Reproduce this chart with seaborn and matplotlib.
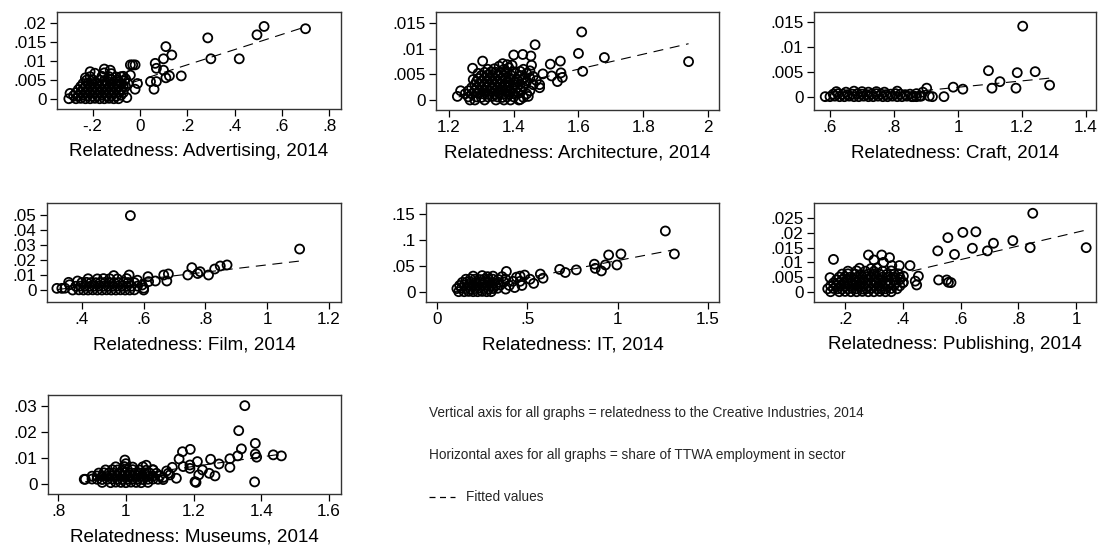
import matplotlib
matplotlib.use("Agg")
import matplotlib.pyplot as plt
from matplotlib.lines import Line2D
import pandas as pd
import seaborn as sns

# Points, one list of (relatedness, share) per sector
adv_pts = [
    (0.70, 0.0184), (0.525, 0.019), (0.495, 0.0168), (0.287, 0.016), (0.30, 0.0105),
    (0.42, 0.0105), (0.175, 0.006), (0.11, 0.0137), (0.135, 0.0115), (0.10, 0.0105),
    (0.065, 0.0093), (0.07, 0.008), (0.10, 0.0075), (0.11, 0.0055), (0.125, 0.006),
    (0.045, 0.0045), (0.06, 0.0025), (0.07, 0.0045), (-0.04, 0.0089), (-0.03, 0.0089),
    (-0.02, 0.0089), (-0.055, 0.0003), (-0.02, 0.0025), (-0.01, 0.004), (-0.05, 0.004),
    (-0.06, 0.0052), (-0.04, 0.0062), (-0.21, 0.0071), (-0.15, 0.0078), (-0.125, 0.0075),
    (-0.23, 0.0055), (-0.295, 0.0014), (-0.30, 0.0), (-0.09, 0.0045), (-0.08, 0.0058),
    (-0.27, 0.0), (-0.25, 0.0001), (-0.23, 0.0), (-0.21, 0.0), (-0.19, 0.0001), (-0.17, 0.0),
    (-0.15, 0.0), (-0.13, 0.0001), (-0.11, 0.0), (-0.09, 0.0), (-0.28, 0.0008), (-0.26, 0.0008),
    (-0.24, 0.0009), (-0.22, 0.0008), (-0.20, 0.0007), (-0.18, 0.0008), (-0.16, 0.0009),
    (-0.14, 0.0008), (-0.12, 0.0008), (-0.10, 0.0007), (-0.08, 0.0009), (-0.27, 0.0016),
    (-0.25, 0.0017), (-0.23, 0.0016), (-0.21, 0.0015), (-0.19, 0.0016), (-0.17, 0.0017),
    (-0.15, 0.0016), (-0.13, 0.0016), (-0.11, 0.0015), (-0.09, 0.0017), (-0.07, 0.0016),
    (-0.26, 0.0024), (-0.24, 0.0025), (-0.22, 0.0024), (-0.20, 0.0023), (-0.18, 0.0024),
    (-0.16, 0.0025), (-0.14, 0.0024), (-0.12, 0.0023), (-0.10, 0.0024), (-0.08, 0.0025),
    (-0.06, 0.0032), (-0.25, 0.0032), (-0.23, 0.0033), (-0.21, 0.0032), (-0.19, 0.0031),
    (-0.17, 0.0032), (-0.15, 0.0033), (-0.13, 0.0032), (-0.11, 0.0031), (-0.09, 0.0032),
    (-0.07, 0.0033), (-0.24, 0.004), (-0.22, 0.0041), (-0.20, 0.004), (-0.18, 0.0039),
    (-0.16, 0.004), (-0.14, 0.0041), (-0.12, 0.004), (-0.10, 0.0039), (-0.08, 0.0041),
    (-0.225, 0.0049), (-0.20, 0.005), (-0.17, 0.0049), (-0.15, 0.0048), (-0.12, 0.005),
    (-0.095, 0.0049), (-0.065, 0.0047), (-0.21, 0.0058), (-0.16, 0.0059), (-0.13, 0.0058),
    (-0.10, 0.0057), (-0.07, 0.0059), (-0.19, 0.0067), (-0.15, 0.0068), (-0.12, 0.0066),
]
adv_fit_x = [-0.30, 0.70]
adv_fit_y = [-0.0011, 0.0189]

arch_pts = [
    (1.94, 0.0075), (1.68, 0.0083), (1.61, 0.0133), (1.60, 0.0091), (1.613, 0.0056),
    (1.544, 0.0076), (1.513, 0.007), (1.546, 0.0053), (1.55, 0.0044), (1.517, 0.0047),
    (1.535, 0.0036), (1.49, 0.0051), (1.466, 0.0108), (1.453, 0.0086), (1.428, 0.0089),
    (1.40, 0.0088), (1.455, 0.0068), (1.438, 0.0033), (1.416, 0.0), (1.445, 0.0007),
    (1.48, 0.003), (1.304, 0.0076), (1.273, 0.0062), (1.226, 0.0007), (1.236, 0.0018),
    (1.265, 0.0), (1.366, 0.0071), (1.38, 0.0069), (1.395, 0.0068),
    (1.28, 0.0), (1.31, 0.0), (1.345, 0.0), (1.37, 0.0), (1.39, 0.0), (1.42, 0.0001),
    (1.26, 0.0006), (1.285, 0.0006), (1.30, 0.0005), (1.32, 0.0006), (1.335, 0.0007),
    (1.35, 0.0006), (1.365, 0.0005), (1.38, 0.0006), (1.40, 0.0006), (1.43, 0.0005),
    (1.25, 0.0012), (1.27, 0.0012), (1.29, 0.0013), (1.305, 0.0012), (1.32, 0.0011),
    (1.34, 0.0012), (1.355, 0.0013), (1.37, 0.0012), (1.385, 0.0011), (1.40, 0.0012),
    (1.415, 0.0013), (1.44, 0.0012), (1.26, 0.0018), (1.28, 0.0018), (1.295, 0.0019),
    (1.31, 0.0018), (1.325, 0.0017), (1.34, 0.0018), (1.36, 0.0019), (1.375, 0.0018),
    (1.39, 0.0017), (1.405, 0.0018), (1.42, 0.0019), (1.45, 0.0018), (1.27, 0.0024),
    (1.285, 0.0024), (1.30, 0.0025), (1.315, 0.0024), (1.33, 0.0023), (1.35, 0.0024),
    (1.365, 0.0025), (1.38, 0.0024), (1.395, 0.0023), (1.41, 0.0024), (1.43, 0.0025),
    (1.28, 0.003), (1.295, 0.0031), (1.31, 0.003), (1.325, 0.0029), (1.34, 0.003),
    (1.355, 0.0031), (1.37, 0.003), (1.385, 0.0029), (1.40, 0.003), (1.42, 0.0031),
    (1.46, 0.003), (1.285, 0.0036), (1.30, 0.0037), (1.32, 0.0036), (1.335, 0.0035),
    (1.35, 0.0036), (1.365, 0.0037), (1.38, 0.0036), (1.40, 0.0035), (1.415, 0.0036),
    (1.44, 0.0037), (1.29, 0.0042), (1.31, 0.0043), (1.325, 0.0042), (1.34, 0.0041),
    (1.36, 0.0042), (1.375, 0.0043), (1.39, 0.0042), (1.41, 0.0041), (1.43, 0.0042),
    (1.45, 0.0043), (1.30, 0.0048), (1.32, 0.0049), (1.335, 0.0048), (1.35, 0.0047),
    (1.37, 0.0048), (1.39, 0.0049), (1.42, 0.0048), (1.31, 0.0054), (1.33, 0.0055),
    (1.345, 0.0054), (1.36, 0.0053), (1.38, 0.0054), (1.40, 0.0055), (1.32, 0.006),
    (1.34, 0.0061), (1.37, 0.006), (1.275, 0.004), (1.29, 0.0052), (1.355, 0.0066),
    (1.385, 0.0063), (1.42, 0.0056), (1.44, 0.0052), (1.46, 0.0046), (1.47, 0.0038),
    (1.48, 0.0024), (1.43, 0.006), (1.45, 0.0057),
]
arch_fit_x = [1.23, 1.94]
arch_fit_y = [0.0006, 0.0110]

craft_pts = [
    (1.202, 0.0141), (1.095, 0.0052), (1.241, 0.005), (1.185, 0.0048), (1.131, 0.003),
    (1.286, 0.0023), (1.181, 0.0017), (1.106, 0.0017), (1.015, 0.0015), (0.985, 0.0019),
    (0.956, 0.0), (0.902, 0.0017), (0.92, 0.0), (0.91, 0.0001), (0.88, 0.0001), (0.86, 0.0),
    (0.585, 0.0), (0.60, 0.0), (0.615, 0.0001), (0.63, 0.0), (0.645, 0.0), (0.66, 0.0001),
    (0.675, 0.0), (0.69, 0.0), (0.705, 0.0001), (0.72, 0.0), (0.735, 0.0), (0.75, 0.0001),
    (0.765, 0.0), (0.78, 0.0), (0.795, 0.0001), (0.81, 0.0), (0.825, 0.0), (0.84, 0.0001),
    (0.855, 0.0), (0.87, 0.0), (0.885, 0.0001), (0.61, 0.0005), (0.625, 0.0006),
    (0.64, 0.0005), (0.655, 0.0004), (0.67, 0.0005), (0.685, 0.0006), (0.70, 0.0005),
    (0.715, 0.0004), (0.73, 0.0005), (0.745, 0.0006), (0.76, 0.0005), (0.775, 0.0004),
    (0.79, 0.0005), (0.805, 0.0006), (0.82, 0.0005), (0.835, 0.0004), (0.85, 0.0005),
    (0.87, 0.0006), (0.62, 0.001), (0.65, 0.0009), (0.675, 0.0011), (0.70, 0.001),
    (0.72, 0.0009), (0.745, 0.001), (0.77, 0.0009), (0.81, 0.0011), (0.89, 0.0009),
]
craft_fit_x = [0.58, 1.285]
craft_fit_y = [-0.0008, 0.0037]

film_pts = [
    (0.557, 0.0496), (1.105, 0.0273), (0.87, 0.0167), (0.848, 0.016), (0.83, 0.014),
    (0.81, 0.010), (0.783, 0.0122), (0.756, 0.0149), (0.775, 0.011), (0.743, 0.010),
    (0.68, 0.0107), (0.675, 0.006), (0.665, 0.010), (0.638, 0.006), (0.614, 0.0089),
    (0.616, 0.0056), (0.60, 0.0), (0.595, 0.0033), (0.60, 0.0012), (0.553, 0.01),
    (0.503, 0.0096), (0.357, 0.0051), (0.386, 0.006), (0.319, 0.0011), (0.335, 0.0011),
    (0.37, 0.0), (0.39, 0.0001), (0.405, 0.0), (0.42, 0.0), (0.435, 0.0001), (0.45, 0.0),
    (0.465, 0.0), (0.48, 0.0001), (0.495, 0.0), (0.51, 0.0), (0.525, 0.0001), (0.54, 0.0),
    (0.555, 0.0), (0.57, 0.0001), (0.38, 0.0025), (0.395, 0.0026), (0.41, 0.0025),
    (0.425, 0.0024), (0.44, 0.0025), (0.455, 0.0026), (0.47, 0.0025), (0.485, 0.0024),
    (0.50, 0.0025), (0.515, 0.0026), (0.53, 0.0025), (0.545, 0.0024), (0.56, 0.0025),
    (0.58, 0.0026), (0.40, 0.005), (0.415, 0.0051), (0.43, 0.005), (0.445, 0.0049),
    (0.46, 0.005), (0.475, 0.0051), (0.49, 0.005), (0.505, 0.0049), (0.52, 0.005),
    (0.535, 0.0051), (0.55, 0.005), (0.57, 0.0049), (0.42, 0.0075), (0.45, 0.0074),
    (0.47, 0.0076), (0.49, 0.0075), (0.515, 0.0074), (0.545, 0.0076), (0.36, 0.0035),
    (0.345, 0.0012), (0.58, 0.0065),
]
film_fit_x = [0.32, 1.105]
film_fit_y = [0.0003, 0.0193]

it_pts = [
    (1.264, 0.117), (1.314, 0.0727), (1.018, 0.0727), (0.996, 0.0515), (0.95, 0.0708),
    (0.932, 0.0515), (0.91, 0.04), (0.871, 0.053), (0.876, 0.045), (0.771, 0.042),
    (0.71, 0.037), (0.679, 0.043), (0.587, 0.026), (0.572, 0.034), (0.535, 0.016),
    (0.515, 0.024), (0.485, 0.032), (0.46, 0.02), (0.44, 0.028), (0.42, 0.02),
    (0.384, 0.039), (0.12, 0.0), (0.15, 0.0), (0.175, 0.0005), (0.20, 0.0), (0.225, 0.0),
    (0.25, 0.0005), (0.275, 0.0), (0.30, 0.0), (0.11, 0.006), (0.135, 0.0065),
    (0.16, 0.006), (0.185, 0.0055), (0.21, 0.006), (0.235, 0.0065), (0.26, 0.006),
    (0.285, 0.0055), (0.31, 0.006), (0.335, 0.0065), (0.125, 0.012), (0.15, 0.0125),
    (0.175, 0.012), (0.20, 0.0115), (0.225, 0.012), (0.25, 0.0125), (0.275, 0.012),
    (0.30, 0.0115), (0.325, 0.012), (0.35, 0.0125), (0.14, 0.018), (0.165, 0.0185),
    (0.19, 0.018), (0.215, 0.0175), (0.24, 0.018), (0.265, 0.0185), (0.29, 0.018),
    (0.315, 0.0175), (0.34, 0.018), (0.37, 0.0185), (0.16, 0.024), (0.185, 0.0245),
    (0.21, 0.024), (0.235, 0.0235), (0.26, 0.024), (0.285, 0.0245), (0.31, 0.024),
    (0.34, 0.0235), (0.38, 0.024), (0.20, 0.030), (0.25, 0.031), (0.28, 0.029),
    (0.31, 0.030), (0.36, 0.029), (0.40, 0.012), (0.43, 0.008), (0.38, 0.005),
    (0.46, 0.03), (0.47, 0.012),
]
it_fit_x = [0.10, 1.30]
it_fit_y = [0.0001, 0.080]

pub_pts = [
    (0.85, 0.0267), (1.035, 0.015), (0.841, 0.015), (0.781, 0.0174), (0.714, 0.0165),
    (0.693, 0.0139), (0.653, 0.0204), (0.608, 0.0202), (0.556, 0.0184), (0.641, 0.0148),
    (0.579, 0.0127), (0.521, 0.0139), (0.524, 0.004), (0.552, 0.004), (0.558, 0.0032),
    (0.567, 0.0031), (0.454, 0.0053), (0.448, 0.0023), (0.443, 0.0036), (0.425, 0.0089),
    (0.402, 0.0053), (0.402, 0.0032), (0.16, 0.011), (0.281, 0.0125), (0.327, 0.0125),
    (0.354, 0.0116), (0.30, 0.0108), (0.333, 0.010), (0.362, 0.0089), (0.388, 0.0089),
    (0.148, 0.0048), (0.15, 0.0), (0.18, 0.0), (0.20, 0.0001), (0.22, 0.0), (0.24, 0.0),
    (0.26, 0.0001), (0.28, 0.0), (0.30, 0.0), (0.32, 0.0001), (0.34, 0.0), (0.36, 0.0),
    (0.14, 0.001), (0.16, 0.0011), (0.175, 0.001), (0.19, 0.0009), (0.21, 0.001),
    (0.225, 0.0011), (0.24, 0.001), (0.26, 0.0009), (0.275, 0.001), (0.29, 0.0011),
    (0.31, 0.001), (0.325, 0.0009), (0.34, 0.001), (0.36, 0.0011), (0.38, 0.001),
    (0.15, 0.002), (0.17, 0.0021), (0.185, 0.002), (0.20, 0.0019), (0.215, 0.002),
    (0.23, 0.0021), (0.25, 0.002), (0.265, 0.0019), (0.28, 0.002), (0.30, 0.0021),
    (0.315, 0.002), (0.33, 0.0019), (0.35, 0.002), (0.37, 0.0021), (0.39, 0.002),
    (0.16, 0.003), (0.18, 0.0031), (0.195, 0.003), (0.21, 0.0029), (0.225, 0.003),
    (0.24, 0.0031), (0.255, 0.003), (0.27, 0.0029), (0.29, 0.003), (0.305, 0.0031),
    (0.32, 0.003), (0.34, 0.0029), (0.355, 0.003), (0.375, 0.0031), (0.40, 0.003),
    (0.17, 0.004), (0.19, 0.0041), (0.205, 0.004), (0.22, 0.0039), (0.235, 0.004),
    (0.25, 0.0041), (0.265, 0.004), (0.28, 0.0039), (0.30, 0.004), (0.315, 0.0041),
    (0.33, 0.004), (0.35, 0.0039), (0.37, 0.004), (0.39, 0.0041), (0.18, 0.005),
    (0.20, 0.0051), (0.22, 0.005), (0.24, 0.0049), (0.26, 0.005), (0.275, 0.0051),
    (0.29, 0.005), (0.31, 0.0049), (0.33, 0.005), (0.35, 0.0051), (0.37, 0.005),
    (0.39, 0.0049), (0.19, 0.006), (0.21, 0.0061), (0.235, 0.006), (0.255, 0.0059),
    (0.28, 0.006), (0.30, 0.0061), (0.32, 0.006), (0.345, 0.0059), (0.37, 0.006),
    (0.385, 0.0061), (0.21, 0.007), (0.24, 0.0071), (0.27, 0.007), (0.30, 0.0069),
    (0.33, 0.007), (0.36, 0.0071), (0.25, 0.008), (0.29, 0.0079), (0.31, 0.0081),
]
pub_fit_x = [0.15, 1.035]
pub_fit_y = [0.0005, 0.0210]

mus_pts = [
    (1.351, 0.0301), (1.333, 0.0205), (1.382, 0.0156), (1.341, 0.0135), (1.382, 0.0115),
    (1.386, 0.0103), (1.435, 0.0112), (1.459, 0.0108), (1.38, 0.0008), (1.33, 0.0108),
    (1.307, 0.0097), (1.307, 0.0064), (1.275, 0.0077), (1.25, 0.0095), (1.263, 0.0031),
    (1.246, 0.0041), (1.226, 0.0054), (1.215, 0.0035), (1.204, 0.0009), (1.207, 0.0006),
    (1.211, 0.0086), (1.19, 0.0133), (1.167, 0.0124), (1.157, 0.0096), (1.169, 0.0067),
    (1.189, 0.006), (1.189, 0.0073), (1.137, 0.0064), (1.149, 0.0022), (1.125, 0.0041),
    (0.997, 0.0092), (0.877, 0.0018), (0.93, 0.0006), (0.955, 0.0005), (0.97, 0.0007),
    (0.985, 0.0006), (1.0, 0.0005), (1.015, 0.0007), (1.03, 0.0006), (1.045, 0.0005),
    (1.065, 0.0006), (0.88, 0.0018), (0.90, 0.0019), (0.915, 0.0018), (0.93, 0.0017),
    (0.945, 0.0018), (0.96, 0.0019), (0.975, 0.0018), (0.99, 0.0017), (1.005, 0.0018),
    (1.02, 0.0019), (1.035, 0.0018), (1.05, 0.0017), (1.065, 0.0018), (1.08, 0.0019),
    (1.095, 0.0018), (1.11, 0.0017), (0.90, 0.003), (0.915, 0.0031), (0.93, 0.003),
    (0.945, 0.0029), (0.96, 0.003), (0.975, 0.0031), (0.99, 0.003), (1.005, 0.0029),
    (1.02, 0.003), (1.035, 0.0031), (1.05, 0.003), (1.065, 0.0029), (1.08, 0.003),
    (1.10, 0.0031), (0.92, 0.0042), (0.935, 0.0043), (0.95, 0.0042), (0.965, 0.0041),
    (0.98, 0.0042), (0.995, 0.0043), (1.01, 0.0042), (1.025, 0.0041), (1.04, 0.0042),
    (1.055, 0.0043), (1.07, 0.0042), (1.09, 0.0041), (0.94, 0.0054), (0.96, 0.0055),
    (0.975, 0.0054), (0.99, 0.0053), (1.005, 0.0054), (1.02, 0.0055), (1.04, 0.0054),
    (1.06, 0.0053), (1.08, 0.0054), (0.97, 0.0066), (0.995, 0.0067), (1.02, 0.0065),
    (1.05, 0.0066), (1.0, 0.0078), (1.06, 0.0072), (1.08, 0.0055), (1.12, 0.005),
    (1.13, 0.0035), (1.11, 0.0025),
]
mus_fit_x = [0.88, 1.46]
mus_fit_y = [0.0009, 0.0115]

sectors = ["Advertising", "Architecture", "Craft", "Film", "IT", "Publishing", "Museums"]
points = [adv_pts, arch_pts, craft_pts, film_pts, it_pts, pub_pts, mus_pts]
fits = [(adv_fit_x, adv_fit_y), (arch_fit_x, arch_fit_y), (craft_fit_x, craft_fit_y),
        (film_fit_x, film_fit_y), (it_fit_x, it_fit_y), (pub_fit_x, pub_fit_y),
        (mus_fit_x, mus_fit_y)]

xticks = [
    [-0.2, 0, 0.2, 0.4, 0.6, 0.8], [1.2, 1.4, 1.6, 1.8, 2], [0.6, 0.8, 1, 1.2, 1.4],
    [0.4, 0.6, 0.8, 1, 1.2], [0, 0.5, 1, 1.5], [0.2, 0.4, 0.6, 0.8, 1], [0.8, 1, 1.2, 1.4, 1.6],
]
xticklabels = [
    ["-.2", "0", ".2", ".4", ".6", ".8"], ["1.2", "1.4", "1.6", "1.8", "2"],
    [".6", ".8", "1", "1.2", "1.4"], [".4", ".6", ".8", "1", "1.2"], ["0", ".5", "1", "1.5"],
    [".2", ".4", ".6", ".8", "1"], [".8", "1", "1.2", "1.4", "1.6"],
]
yticks = [
    [0, 0.005, 0.01, 0.015, 0.02], [0, 0.005, 0.01, 0.015], [0, 0.005, 0.01, 0.015],
    [0, 0.01, 0.02, 0.03, 0.04, 0.05], [0, 0.05, 0.1, 0.15],
    [0, 0.005, 0.01, 0.015, 0.02, 0.025], [0, 0.01, 0.02, 0.03],
]
yticklabels = [
    ["0", ".005", ".01", ".015", ".02"], ["0", ".005", ".01", ".015"], ["0", ".005", ".01", ".015"],
    ["0", ".01", ".02", ".03", ".04", ".05"], ["0", ".05", ".1", ".15"],
    ["0", ".005", ".01", ".015", ".02", ".025"], ["0", ".01", ".02", ".03"],
]

# axis ranges and pixel boxes (left, top, right, bottom) for the 1103x548 canvas
xlims = [(-0.35, 0.85), (1.16, 2.034), (0.55, 1.431), (0.287, 1.239), (-0.061, 1.561),
         (0.0925, 1.069), (0.770, 1.635)]
ylims = [(-0.0027, 0.0228), (-0.00196, 0.0172), (-0.00267, 0.01694), (-0.008, 0.058),
         (-0.0199, 0.171), (-0.0035, 0.0302), (-0.00385, 0.0342)]
boxes = [(57, 12, 341, 109), (436, 12, 719, 110), (814, 12, 1096, 110),
         (47, 203, 341, 302), (426, 203, 719, 302), (814, 203, 1096, 302),
         (48, 395, 341, 494)]

sns.set_theme(style="ticks")
plt.rcParams["font.family"] = ["Liberation Sans", "DejaVu Sans"]

W, H = 1103, 548
fig = plt.figure(figsize=(W / 100, H / 100), dpi=100)
fig.patch.set_facecolor("white")

for i, name in enumerate(sectors):
    l, t, r, b = boxes[i]
    ax = fig.add_axes([l / W, 1 - b / H, (r - l) / W, (b - t) / H])
    df = pd.DataFrame(points[i], columns=["rel", "share"])
    sns.scatterplot(data=df, x="rel", y="share", ax=ax, s=42, marker="o",
                    facecolor="none", edgecolor="black", linewidth=1.3, legend=False)
    fx, fy = fits[i]
    sns.lineplot(x=fx, y=fy, ax=ax, color="black", linewidth=0.8,
                 linestyle=(0, (9, 6)), legend=False)
    ax.set_xlim(*xlims[i])
    ax.set_ylim(*ylims[i])
    ax.set_xticks(xticks[i])
    ax.set_xticklabels(xticklabels[i])
    ax.set_yticks(yticks[i])
    ax.set_yticklabels(yticklabels[i])
    ax.tick_params(axis="both", length=5, width=0.9, color="black", labelsize=12.3,
                   pad=2.5, labelcolor="black")
    for sp in ax.spines.values():
        sp.set_visible(True)
        sp.set_color("#333333")
        sp.set_linewidth(1.0)
    ax.set_xlabel(f"Relatedness: {name}, 2014", fontsize=13.6, color="black", labelpad=6.5)
    ax.set_ylabel("")
    ax.set_facecolor("white")

note_font = ["Liberation Sans Narrow", "Liberation Sans", "DejaVu Sans"]
fig.text(429 / W, 1 - 413 / H, "Vertical axis for all graphs = relatedness to the Creative Industries, 2014",
         ha="left", va="center", fontsize=9.8, family=note_font)
fig.text(429 / W, 1 - 455 / H, "Horizontal axes for all graphs = share of TTWA employment in sector",
         ha="left", va="center", fontsize=9.8, family=note_font)
fig.add_artist(Line2D([429 / W, 455 / W], [1 - 497 / H, 1 - 497 / H], transform=fig.transFigure,
                      color="black", linewidth=0.9, linestyle=(0, (4.8, 3.6))))
fig.text(466 / W, 1 - 497 / H, "Fitted values", ha="left", va="center", fontsize=9.8, family=note_font)

fig.savefig("out.png", dpi=100)
